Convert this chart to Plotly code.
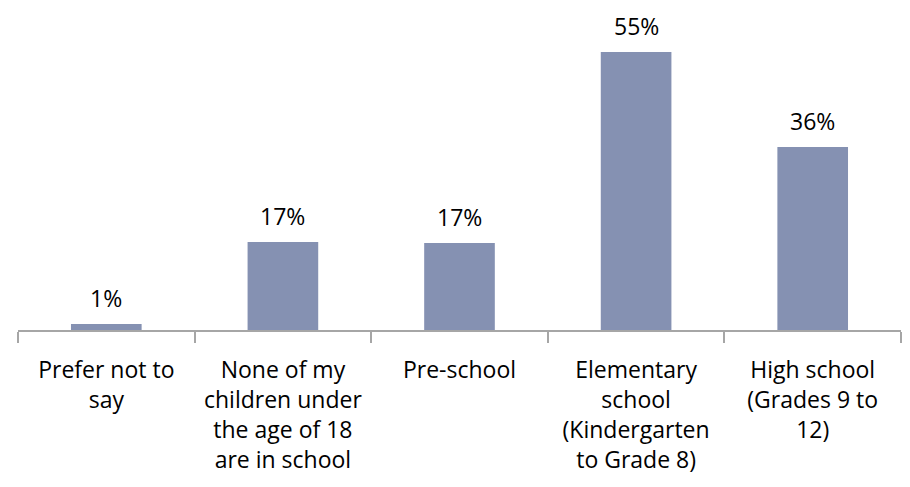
import plotly.graph_objects as go

categories = [
    "Prefer not to<br>say",
    "None of my<br>children under<br>the age of 18<br>are in school",
    "Pre-school",
    "Elementary<br>school<br>(Kindergarten<br>to Grade 8)",
    "High school<br>(Grades 9 to<br>12)",
]
values = [1.2, 17.4, 17.2, 55.0, 36.2]
labels = ["1%", "17%", "17%", "55%", "36%"]

bar_color = "#8591B2"
font_family = "Open Sans, Noto Sans, Liberation Sans, sans-serif"

fig = go.Figure()
fig.add_trace(go.Bar(
    x=categories, y=values,
    marker=dict(color=bar_color, line=dict(width=0)),
    width=0.4,
    hoverinfo="skip",
))

for c, v, t in zip(categories, values, labels):
    fig.add_annotation(
        x=c, y=v, text=t, showarrow=False,
        yanchor="bottom", yshift=9, borderpad=0,
        font=dict(family=font_family, size=23, color="#000000"),
    )

fig.update_layout(
    width=900, height=477,
    margin=dict(l=10, r=7, t=2, b=155),
    plot_bgcolor="white", paper_bgcolor="white",
    showlegend=False,
    font=dict(family=font_family, size=23, color="#000000"),
    xaxis=dict(
        showline=True, linecolor="#A6A6A6", linewidth=1.5,
        ticks="outside", tickson="boundaries", ticklen=11,
        tickcolor="#A6A6A6", tickwidth=1.5,
        ticklabelstandoff=19,
        tickfont=dict(family=font_family, size=23, color="#000000"),
        showgrid=False, zeroline=False, automargin=False,
    ),
    yaxis=dict(
        range=[0, 63.3], visible=False, showgrid=False, zeroline=False,
    ),
)

fig.write_html("out.html")
